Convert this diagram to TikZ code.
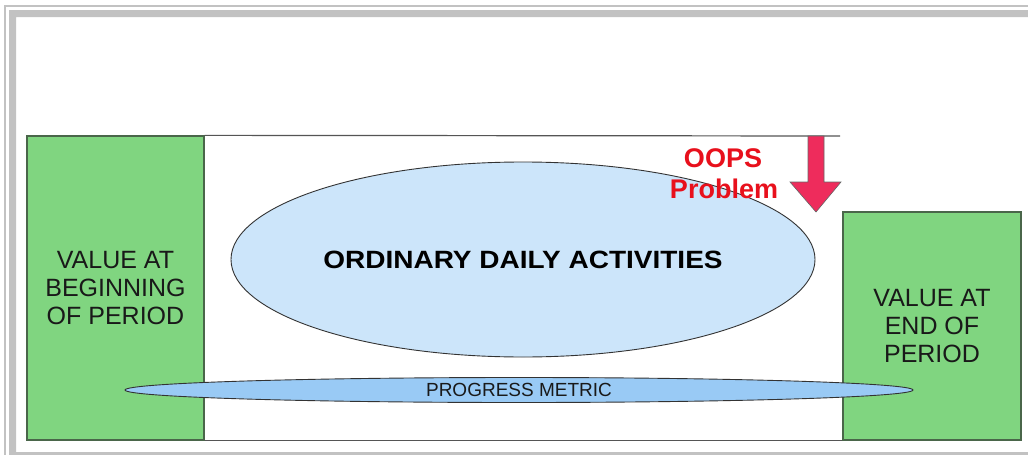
\documentclass[tikz,border=0pt]{standalone}
\usepackage{fontspec}
\setmainfont{Liberation Sans}
\usetikzlibrary{shapes.geometric}
\definecolor{boxgreen}{HTML}{80D580}
\definecolor{boxedge}{HTML}{4A664A}
\definecolor{ellfill}{HTML}{CCE5FA}
\definecolor{pmfill}{HTML}{99CAF5}
\definecolor{arrowred}{HTML}{EE2C5C}
\definecolor{oopsred}{HTML}{E8101C}
\definecolor{framegray}{HTML}{C2C2C2}
\definecolor{linegray}{HTML}{555555}
\tikzset{
  valuebox/.style={draw=boxedge, fill=boxgreen, line width=1.3pt, inner sep=0pt,
    align=center, font=\fontsize{25}{28}\selectfont, text=black!90},
  bigell/.style={ellipse, draw=black!80, fill=ellfill, line width=0.9pt, inner sep=0pt},
  thinell/.style={ellipse, draw=black!80, fill=pmfill, line width=0.9pt, inner sep=0pt},
  oops/.style={anchor=base, text=oopsred, font=\fontsize{27}{31}\selectfont\bfseries},
  joinline/.style={draw=linegray, line width=1.2pt}
}
\begin{document}
\begin{tikzpicture}[x=1pt,y=-1pt]
\useasboundingbox (0,0) rectangle (1028,455);
\fill[white] (0,0) rectangle (1028,455);
% frame
\draw[framegray, line width=2pt] (5,470) -- (5,6) -- (1040,6);
\fill[framegray] (9,470) -- (9,10) -- (1040,10) -- (1040,17) -- (16,17) -- (16,452) -- (1040,452) -- (1040,470) -- cycle;
% boxes
\node[valuebox, minimum width=177pt, minimum height=304pt] (lb) at (115.5,288)
  {VALUE AT\\BEGINNING\\OF PERIOD};
\node[valuebox, minimum width=178pt, minimum height=228pt] (rb) at (932,326)
  {VALUE AT\\END OF\\PERIOD};
% connecting lines
\coordinate (topend) at (840,136);
\draw[joinline] (lb.north east) -- (topend);
\draw[joinline] (lb.south east) -- (rb.south west);
% big ellipse
\node[bigell, minimum width=584pt, minimum height=195pt,
  font=\fontsize{25}{28}\selectfont\bfseries] (oda) at (523,259.5)
  {\scalebox{1.12}[1]{ORDINARY DAILY ACTIVITIES}};
% progress metric
\node[thinell, minimum width=788pt, minimum height=25pt,
  font=\fontsize{19}{22}\selectfont, text=black!90] (pm) at (519,390) {PROGRESS METRIC};
% arrow
\filldraw[fill=arrowred, draw=black!60, line width=0.6pt]
  (808,136) -- (824,136) -- (824,182) -- (841,182) -- (816,212) -- (790,182) -- (808,182) -- cycle;
% OOPS text
\node[oops] (oops1) at (723,167) {OOPS};
\node[oops] (oops2) at (724,198) {Problem};
\end{tikzpicture}
\end{document}
